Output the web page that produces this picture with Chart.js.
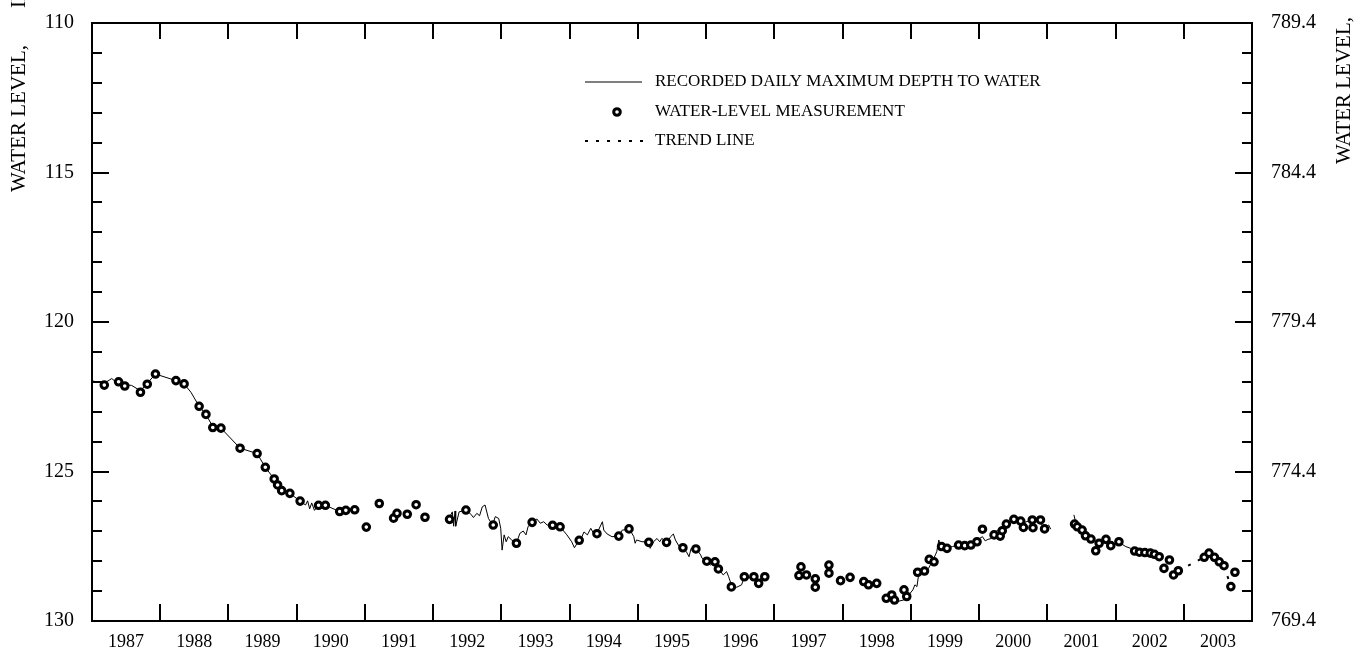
<!DOCTYPE html>
<html>
<head>
<meta charset="utf-8">
<title>Water level hydrograph</title>
<script src="https://cdn.jsdelivr.net/npm/chart.js@4.4.0/dist/chart.umd.min.js"></script>
<style>
    html, body { margin: 0; padding: 0; background: #fff; }
    #wrap { width: 1370px; height: 650px; }
</style>
</head>
<body>
<div id="wrap"><canvas id="hydrograph" width="1370" height="650"></canvas></div>
<script>
var yearLabels = ['1987', '1988', '1989', '1990', '1991', '1992', '1993', '1994', '1995',
    '1996', '1997', '1998', '1999', '2000', '2001', '2002', '2003'];
var depthTicks = [110, 115, 120, 125, 130];
var elevationTicks = [769.4, 774.4, 779.4, 784.4, 789.4];

// recorder record, null marks a gap in the record
var dailyYears = [
    1987.00, 1987.18, 1987.29, 1987.33, 1987.39, 1987.48, 1987.58, 1987.71, 1987.81, 1987.93,
    1988.23, 1988.35, 1988.45, 1988.57, 1988.67, 1988.77, 1988.89, 1989.17, 1989.42, 1989.54,
    1989.67, 1989.78, 1989.90, 1990.05, 1990.13, 1990.16, 1990.19, 1990.22, 1990.26, 1990.32,
    1990.42, 1990.63, 1990.72, 1990.85,
    1991.50,
    1992.23, 1992.28, 1992.30, 1992.32, 1992.33, 1992.38, 1992.49, 1992.56, 1992.59, 1992.64,
    1992.68, 1992.72, 1992.76, 1992.81, 1992.87, 1992.91, 1992.96, 1992.99, 1993.01, 1993.04,
    1993.07, 1993.10, 1993.15, 1993.22, 1993.27, 1993.32, 1993.36, 1993.39, 1993.45, 1993.52,
    1993.57, 1993.62, 1993.67, 1993.76, 1993.86, 1993.96, 1994.03, 1994.07, 1994.11, 1994.16,
    1994.21, 1994.26, 1994.31, 1994.35, 1994.40, 1994.48, 1994.50, 1994.55, 1994.62, 1994.72,
    1994.77, 1994.88, 1994.94, 1994.96, 1994.98, 1995.06, 1995.15, 1995.18, 1995.23, 1995.28,
    1995.32, 1995.35, 1995.43, 1995.48, 1995.52, 1995.55, 1995.60, 1995.66, 1995.71, 1995.75,
    1995.78, 1995.86, 1995.92, 1995.94, 1996.00, 1996.06, 1996.12, 1996.19, 1996.25, 1996.30,
    1996.33, 1996.38, 1996.45, 1996.52, 1996.56, 1996.62, 1996.69, 1996.71, 1996.76, 1996.80,
    1996.85,
    1997.80,
    1998.80, 1998.89, 1998.97, 1999.03, 1999.06, 1999.09, 1999.11, 1999.18, 1999.26, 1999.31,
    1999.36, 1999.38, 1999.41, 1999.43, 1999.51, 1999.61, 1999.70, 1999.80, 1999.90, 1999.97,
    2000.05, 2000.09, 2000.13, 2000.18, 2000.22, 2000.27, 2000.30, 2000.34, 2000.42, 2000.51,
    2000.64, 2000.76, 2000.88, 2000.95, 2001.02, 2001.05,
    2001.20,
    2001.39, 2001.42, 2001.49, 2001.56, 2001.64, 2001.71, 2001.78, 2001.86, 2001.93, 2002.05,
    2002.15, 2002.22, 2002.29, 2002.35
];
var dailyDepths = [
    121.97, 122.05, 121.89, 121.97, 121.98, 122.10, 122.12, 122.30, 122.05, 121.74,
    121.96, 122.07, 122.35, 122.82, 123.09, 123.50, 123.55, 124.22, 124.40, 124.86,
    125.25, 125.64, 125.73, 125.99, 126.12, 125.98, 126.25, 126.05, 126.30, 126.13,
    126.13, 126.34, 126.30, 126.28,
    null,
    126.59, 126.35, 126.83, 126.32, 126.83, 126.35, 126.29, 126.45, 126.54, 126.40,
    126.48, 126.18, 126.12, 126.57, 126.79, 126.51, 126.57, 126.90, 127.63, 127.12,
    127.35, 127.18, 127.29, 127.40, 127.07, 126.99, 127.12, 126.85, 126.68, 126.59,
    126.73, 126.68, 126.79, 126.81, 126.85, 127.12, 127.35, 127.55, 127.40, 127.29,
    127.02, 127.12, 126.90, 127.07, 127.07, 126.68, 126.96, 127.09, 127.18, 127.16,
    126.96, 126.93, 127.18, 127.40, 127.29, 127.35, 127.35, 127.57, 127.35, 127.24,
    127.35, 127.24, 127.35, 127.18, 127.09, 127.29, 127.49, 127.57, 127.68, 127.85,
    127.57, 127.60, 127.79, 127.90, 128.02, 128.13, 128.02, 128.27, 128.46, 128.35,
    128.52, 128.85, 128.87, 128.79, 128.52, 128.57, 128.50, 128.39, 128.74, 128.57,
    128.46,
    null,
    129.35, 129.30, 129.13, 128.96, 128.79, 128.85, 128.52, 128.35, 128.24, 128.02,
    127.79, 127.68, 127.29, 127.46, 127.55, 127.51, 127.46, 127.48, 127.40, 127.29,
    127.18, 127.32, 127.27, 127.24, 127.07, 126.96, 127.12, 126.90, 126.73, 126.57,
    126.73, 126.62, 126.62, 126.90, 126.79, 126.93,
    null,
    126.45, 126.73, 126.90, 127.12, 127.24, 127.35, 127.37, 127.27, 127.44, 127.37,
    127.51, 127.57, 127.66, 127.70
];

// periodic tape measurements
var measureYears = [
    1987.18, 1987.39, 1987.48, 1987.71, 1987.81, 1987.93, 1988.23, 1988.35, 1988.57, 1988.67,
    1988.77, 1988.89, 1989.17, 1989.42, 1989.54, 1989.67, 1989.72, 1989.78, 1989.90, 1990.05,
    1990.32, 1990.42, 1990.63, 1990.72, 1990.85, 1991.02, 1991.21, 1991.42, 1991.47, 1991.62,
    1991.75, 1991.88, 1992.24, 1992.48, 1992.88, 1993.22, 1993.45, 1993.75, 1993.86, 1994.14,
    1994.40, 1994.72, 1994.87, 1995.16, 1995.42, 1995.66, 1995.85, 1996.01, 1996.13, 1996.18,
    1996.37, 1996.56, 1996.70, 1996.77, 1996.86, 1997.36, 1997.39, 1997.47, 1997.60, 1997.60,
    1997.80, 1997.80, 1997.97, 1998.11, 1998.31, 1998.38, 1998.50, 1998.64, 1998.72, 1998.76,
    1998.90, 1998.94, 1999.10, 1999.20, 1999.27, 1999.34, 1999.45, 1999.53, 1999.70, 1999.79,
    1999.88, 1999.97, 2000.05, 2000.22, 2000.31, 2000.34, 2000.40, 2000.51, 2000.61, 2000.65,
    2000.78, 2000.79, 2000.90, 2000.96, 2001.40, 2001.44, 2001.51, 2001.56, 2001.64, 2001.71,
    2001.76, 2001.86, 2001.93, 2002.05, 2002.28, 2002.35, 2002.43, 2002.51, 2002.57, 2002.64,
    2002.71, 2002.79, 2002.85, 2002.92, 2003.30, 2003.37, 2003.45, 2003.52, 2003.59, 2003.69,
    2003.75
];
var measureDepths = [
    122.11, 122.00, 122.14, 122.35, 122.08, 121.74, 121.96, 122.07, 122.82, 123.09,
    123.53, 123.55, 124.22, 124.40, 124.86, 125.25, 125.45, 125.64, 125.73, 125.99,
    126.13, 126.13, 126.34, 126.30, 126.28, 126.86, 126.07, 126.56, 126.40, 126.43,
    126.11, 126.53, 126.60, 126.29, 126.79, 127.40, 126.70, 126.80, 126.85, 127.30,
    127.08, 127.16, 126.92, 127.37, 127.37, 127.55, 127.59, 128.00, 128.02, 128.26,
    128.86, 128.52, 128.52, 128.74, 128.52, 128.48, 128.19, 128.46, 128.59, 128.87,
    128.13, 128.40, 128.65, 128.54, 128.68, 128.79, 128.74, 129.24, 129.13, 129.30,
    128.96, 129.18, 128.37, 128.33, 127.94, 128.02, 127.51, 127.57, 127.46, 127.48,
    127.46, 127.35, 126.93, 127.12, 127.16, 126.98, 126.76, 126.60, 126.66, 126.87,
    126.62, 126.88, 126.62, 126.92, 126.76, 126.85, 126.96, 127.15, 127.26, 127.65,
    127.40, 127.27, 127.48, 127.35, 127.66, 127.70, 127.71, 127.73, 127.77, 127.85,
    128.24, 127.96, 128.46, 128.32, 127.87, 127.73, 127.87, 128.02, 128.15, 128.85,
    128.37
];

var trendYears = [2002.92, 2003.30, 2003.45, 2003.59, 2003.69];
var trendDepths = [128.32, 127.87, null, 128.15, 128.85];

function pairUp(xs, ys) {
    return xs.map(function (x, i) { return { x: x, y: ys[i] }; });
}

var frameTicks = {
    id: 'frameTicks',
    afterDraw: function (chart) {
        var ctx = chart.ctx;
        var a = chart.chartArea;
        var sx = chart.scales.x, sy = chart.scales.y, sy2 = chart.scales.y2;
        ctx.save();
        ctx.strokeStyle = '#000';
        ctx.lineWidth = 2;
        ctx.strokeRect(a.left, a.top, a.right - a.left, a.bottom - a.top);
        ctx.beginPath();
        for (var i = 1; i < yearLabels.length; i++) {
            var px = Math.round(sx.getPixelForValue(Number(yearLabels[i])));
            ctx.moveTo(px, a.bottom);
            ctx.lineTo(px, a.bottom - 17);
            ctx.moveTo(px, a.top);
            ctx.lineTo(px, a.top + 16);
        }
        var lo = depthTicks[0], hi = depthTicks[depthTicks.length - 1];
        for (var d = 0; d <= hi - lo; d++) {
            var len = d % 5 === 0 ? 17 : 10;
            var py = Math.round(sy.getPixelForValue(lo + d));
            ctx.moveTo(a.left, py);
            ctx.lineTo(a.left + len, py);
            var py2 = Math.round(sy2.getPixelForValue(elevationTicks[0] + d));
            ctx.moveTo(a.right, py2);
            ctx.lineTo(a.right - len, py2);
        }
        ctx.stroke();
        ctx.restore();
    }
};

var sideTitles = {
    id: 'sideTitles',
    afterDraw: function (chart) {
        var ctx = chart.ctx;
        ctx.save();
        ctx.fillStyle = '#000';
        ctx.font = '21px "Liberation Serif"';
        ctx.textAlign = 'left';
        ctx.textBaseline = 'alphabetic';
        ctx.translate(25, 192);
        ctx.rotate(-Math.PI / 2);
        ctx.fillText('WATER LEVEL,', 0, 0);
        ctx.fillText('IN', 184, 0);
        ctx.restore();
        ctx.save();
        ctx.fillStyle = '#000';
        ctx.font = '21px "Liberation Serif"';
        ctx.translate(1350, 164);
        ctx.rotate(-Math.PI / 2);
        ctx.fillText('WATER LEVEL,', 0, 0);
        ctx.restore();
    }
};

var keyBox = {
    id: 'keyBox',
    afterDraw: function (chart) {
        var ctx = chart.ctx;
        var ds = chart.data.datasets;
        ctx.save();
        ctx.font = '17px "Liberation Serif"';
        ctx.textBaseline = 'middle';
        ctx.fillStyle = '#000';

        ctx.strokeStyle = ds[0].borderColor;
        ctx.lineWidth = 1;
        ctx.beginPath();
        ctx.moveTo(585, 82);
        ctx.lineTo(642, 82);
        ctx.stroke();
        ctx.fillText(ds[0].label, 655, 82);

        ctx.beginPath();
        ctx.arc(617, 112, ds[1].pointRadius, 0, Math.PI * 2);
        ctx.fillStyle = ds[1].pointBackgroundColor;
        ctx.fill();
        ctx.lineWidth = ds[1].pointBorderWidth;
        ctx.strokeStyle = ds[1].pointBorderColor;
        ctx.stroke();
        ctx.fillStyle = '#000';
        ctx.fillText(ds[1].label, 655, 112);

        ctx.setLineDash(ds[2].borderDash);
        ctx.lineWidth = ds[2].borderWidth;
        ctx.strokeStyle = ds[2].borderColor;
        ctx.beginPath();
        ctx.moveTo(585, 141);
        ctx.lineTo(644, 141);
        ctx.stroke();
        ctx.setLineDash([]);
        ctx.fillText(ds[2].label, 655, 141);
        ctx.restore();
    }
};

document.addEventListener('DOMContentLoaded', function () {
    Chart.defaults.font.family = '"Liberation Serif", "Times New Roman", serif';
    Chart.defaults.color = '#000';

    var ctx = document.getElementById('hydrograph').getContext('2d');
    new Chart(ctx, {
        type: 'scatter',
        data: {
            datasets: [{
                label: 'RECORDED DAILY MAXIMUM DEPTH TO WATER',
                data: pairUp(dailyYears, dailyDepths),
                showLine: true,
                spanGaps: false,
                borderColor: '#000',
                borderWidth: 1,
                pointRadius: 0,
                tension: 0,
                order: 2
            }, {
                label: 'WATER-LEVEL MEASUREMENT',
                data: pairUp(measureYears, measureDepths),
                showLine: false,
                pointRadius: 3.3,
                pointBorderWidth: 3,
                pointBorderColor: '#000',
                pointBackgroundColor: '#fff',
                order: 0
            }, {
                label: 'TREND LINE',
                data: pairUp(trendYears, trendDepths),
                showLine: true,
                spanGaps: false,
                borderColor: '#000',
                borderWidth: 2,
                borderDash: [3, 8],
                pointRadius: 0,
                order: 1
            }]
        },
        options: {
            responsive: false,
            animation: false,
            devicePixelRatio: 1,
            layout: { padding: { top: 22, left: 0, right: 0, bottom: 0 } },
            plugins: {
                legend: { display: false },
                tooltip: { enabled: false }
            },
            scales: {
                x: {
                    type: 'linear',
                    position: 'bottom',
                    min: 1987,
                    max: 2004,
                    grid: { display: false },
                    border: { display: false },
                    afterBuildTicks: function (scale) {
                        scale.ticks = yearLabels.map(function (y) { return { value: Number(y) + 0.5 }; });
                    },
                    afterFit: function (scale) { scale.height = 29; },
                    ticks: {
                        autoSkip: false,
                        maxRotation: 0,
                        padding: 2,
                        font: { size: 18 },
                        callback: function (value, index) { return yearLabels[index]; }
                    }
                },
                y: {
                    position: 'left',
                    reverse: true,
                    min: 110,
                    max: 130,
                    grid: { display: false },
                    border: { display: false },
                    afterBuildTicks: function (scale) {
                        scale.ticks = depthTicks.map(function (v) { return { value: v }; });
                    },
                    afterFit: function (scale) { scale.width = 92; },
                    ticks: {
                        padding: 10,
                        font: { size: 20 },
                        callback: function (value) { return String(value); }
                    }
                },
                y2: {
                    position: 'right',
                    min: 769.4,
                    max: 789.4,
                    grid: { display: false },
                    border: { display: false },
                    afterBuildTicks: function (scale) {
                        scale.ticks = elevationTicks.map(function (v) { return { value: v }; });
                    },
                    afterFit: function (scale) { scale.width = 118; },
                    ticks: {
                        padding: 11,
                        font: { size: 20 },
                        callback: function (value) { return value.toFixed(1); }
                    }
                }
            }
        },
        plugins: [frameTicks, sideTitles, keyBox]
    });
});
</script>
</body>
</html>
